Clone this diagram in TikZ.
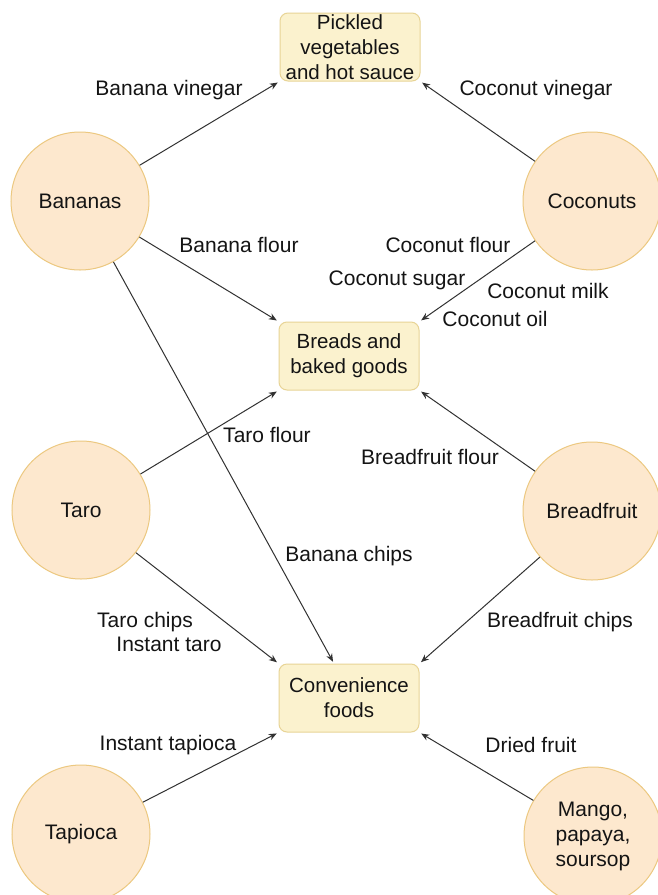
\documentclass[tikz,border=0pt]{standalone}
\usepackage{fontspec}
\setmainfont{Liberation Sans}
\usetikzlibrary{arrows.meta}
\definecolor{boxfill}{RGB}{251,242,206}
\definecolor{boxdraw}{RGB}{232,212,150}
\definecolor{circfill}{RGB}{253,232,206}
\definecolor{circdraw}{RGB}{236,200,128}
\definecolor{linec}{RGB}{50,50,50}
\definecolor{textc}{RGB}{20,20,20}
\begin{document}
\begin{tikzpicture}[x=1pt,y=-1pt,
  every node/.style={font=\fontsize{21}{25}\selectfont, text=textc},
  prodbox/.style={draw=boxdraw, fill=boxfill, line width=1pt, rounded corners=8pt,
    minimum width=140pt, minimum height=68pt, align=center, inner sep=1pt,
    font=\fontsize{20.5}{25}\selectfont},
  crop/.style={circle, draw=circdraw, fill=circfill, line width=1pt,
    minimum size=138pt, align=center, inner sep=0pt},
  lab/.style={inner sep=1pt},
  flow/.style={draw=linec, line width=1pt, -{Stealth[length=8pt,width=6.5pt]}, shorten >=2pt}]
\useasboundingbox (0,0) rectangle (658,895);
\fill[white] (0,0) rectangle (658,895);

% product boxes
\node[prodbox] (pickled) at (350,47) {Pickled\\vegetables\\and hot sauce};
\node[prodbox] (breads) at (349,356) {Breads and\\baked goods};
\node[prodbox] (conv) at (349,698) {Convenience\\foods};

% crops
\node[crop] (bananas) at (80,201) {Bananas};
\node[crop] (coconuts) at (592,201) {Coconuts};
\node[crop] (taro) at (81,510) {Taro};
\node[crop] (breadfruit) at (592,511) {Breadfruit};
\node[crop] (tapioca) at (81,834) {Tapioca};
\node[crop] (mango) at (593,836) {Mango,\\papaya,\\soursop};

\coordinate (convtop) at ([xshift=-15pt]conv.north);

% connectors
\draw[flow] (bananas) -- (pickled.south west);
\draw[flow] (coconuts) -- (pickled.south east);
\draw[flow] (bananas) -- (breads.north west);
\draw[flow] (coconuts) -- (breads.north east);
\draw[flow] (bananas) -- (convtop);
\draw[flow] (taro) -- (breads.south west);
\draw[flow] (breadfruit) -- (breads.south east);
\draw[flow] (taro) -- (conv.north west);
\draw[flow] (breadfruit) -- (conv.north east);
\draw[flow] (tapioca) -- (conv.south west);
\draw[flow] (mango) -- (conv.south east);

% labels
\node[lab] (l1) at (169,90) {Banana vinegar};
\node[lab] (l2) at (536,90) {Coconut vinegar};
\node[lab] (l3) at (239,245) {Banana flour};
\node[lab] (l4) at (448,245) {Coconut flour};
\node[lab] (l5) at (397,280) {Coconut sugar};
\node[lab] (l6) at (548,291) {Coconut milk};
\node[lab] (l7) at (495,319) {Coconut oil};
\node[lab] (l8) at (267,435) {Taro flour};
\node[lab] (l9) at (430,457) {Breadfruit flour};
\node[lab] (l10) at (349,556) {Banana chips};
\node[lab] (l11) at (145,622) {Taro chips};
\node[lab] (l12) at (169,644) {Instant taro};
\node[lab] (l13) at (560,622) {Breadfruit chips};
\node[lab] (l14) at (168,745) {Instant tapioca};
\node[lab] (l15) at (531,745) {Dried fruit};
\end{tikzpicture}
\end{document}
